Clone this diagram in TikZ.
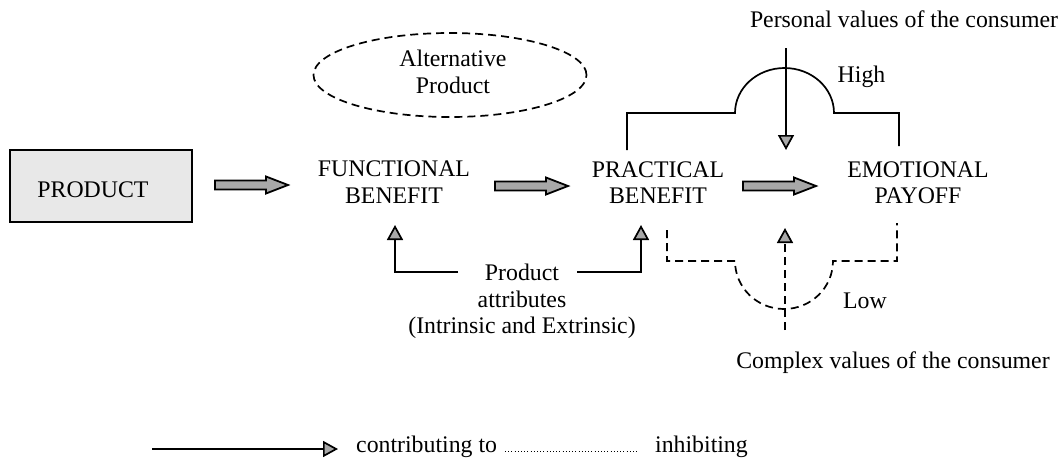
\documentclass[tikz,border=0pt]{standalone}
\usepackage{fontspec}
\setmainfont{Liberation Serif}
\usetikzlibrary{arrows.meta,shapes.geometric}
\definecolor{arrowgray}{RGB}{168,168,168}
\definecolor{boxgray}{RGB}{232,232,232}
\begin{document}
\begin{tikzpicture}[x=1pt,y=1pt,
  txt/.style={inner sep=0pt, font=\fontsize{23.8}{26.5}\selectfont, align=center},
  conn/.style={line width=1.7pt},
  tip/.style={-{Triangle[length=15pt,width=16pt,fill=arrowgray]}},
  dashline/.style={dash pattern=on 8pt off 5pt},
  prodbox/.style={draw, fill=boxgray, line width=1.8pt, minimum width=182pt, minimum height=72pt, inner sep=0pt},
  altellipse/.style={draw, ellipse, line width=1.7pt, dashline, minimum width=273pt, minimum height=84pt, inner sep=0pt},
  blockarrow/.pic={\draw[fill=arrowgray, line width=1.8pt, line join=miter] (0,-4.5) -- (51,-4.5) -- (51,-8.5) -- (73,0) -- (51,8.5) -- (51,4.5) -- (0,4.5) -- cycle;}
]
\useasboundingbox (0,0) rectangle (1061,-459);

% main nodes
\node[prodbox] (product) at (101,-186) {};
\node[txt] (prodtxt) at (93,-189.5) {PRODUCT};
\node[txt] (functional) at (394,-182) {FUNCTIONAL\\BENEFIT};
\node[txt] (practical) at (658,-182.5) {PRACTICAL\\BENEFIT};
\node[txt] (emotional) at (918,-182.5) {EMOTIONAL\\PAYOFF};
\node[altellipse] (alt) at (450,-75) {};
\node[txt] (alttxt) at (453,-72) {Alternative\\Product};
\node[txt] (attr) at (522,-301.5) {Product\\attributes\\(Intrinsic and Extrinsic)};
\node[txt, anchor=base] (personal) at (904,-27) {Personal values of the consumer};
\node[txt, anchor=base] (high) at (861.5,-82) {High};
\node[txt, anchor=base] (low) at (865,-308) {Low};
\node[txt, anchor=base] (complex) at (893,-368) {Complex values of the consumer};

% block arrows
\pic at (215,-185) {blockarrow};
\pic at (495,-186) {blockarrow};
\pic at (743,-186) {blockarrow};

% product attributes connectors
\coordinate (attrL) at (458,-272);
\coordinate (attrR) at (577,-272);
\coordinate (funcB) at (395,-225);
\coordinate (pracB) at (641,-225);
\draw[conn,tip] (attrL) -| (funcB);
\draw[conn,tip] (attrR) -| (pracB);

% high bracket
\draw[conn] (627,-150) -- (627,-113) -- (735,-113)
  arc[start angle=180,end angle=0,x radius=49.5,y radius=45] -- (899,-113) -- (899,-146);
\coordinate (persTop) at (786,-48);
\coordinate (persTip) at (786,-150);
\draw[conn,tip] (persTop) -- (persTip);

% low bracket
\draw[conn,dashline] (667,-230) -- (667,-261) -- (735,-261)
  arc[start angle=180,end angle=360,x radius=49,y radius=48] -- (897,-261) -- (897,-223);
\coordinate (compBot) at (785,-330);
\coordinate (compTip) at (785,-228);
\draw[conn,dashline,tip] (compBot) -- (compTip);

% legend
\coordinate (legA) at (152,-449);
\coordinate (legB) at (338,-449);
\draw[conn,tip] (legA) -- (legB);
\node[txt,anchor=base west] (contrib) at (356,-452) {contributing to};
\draw[line width=1pt, dash pattern=on 1pt off 2.2pt] (505,-451) -- (637,-451);
\node[txt,anchor=base west] (inhib) at (655,-452) {inhibiting};
\end{tikzpicture}
\end{document}
